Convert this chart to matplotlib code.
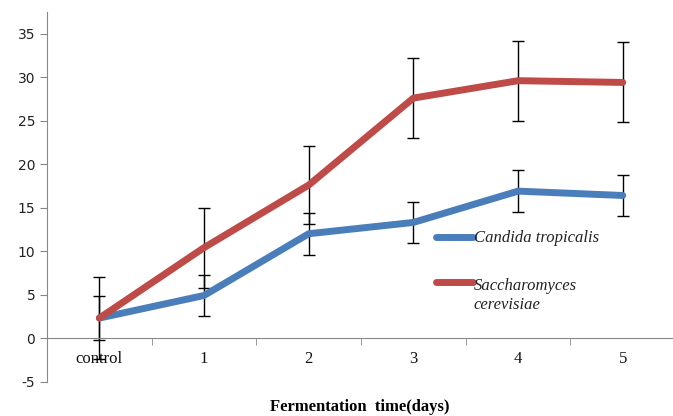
import matplotlib
matplotlib.use("Agg")
import matplotlib.pyplot as plt
import numpy as np

categories = ["control", "1", "2", "3", "4", "5"]
candida = [2.3, 4.9, 12.0, 13.3, 16.9, 16.4]
candida_err = [2.5, 2.4, 2.4, 2.4, 2.4, 2.4]
sacch = [2.3, 10.4, 17.6, 27.6, 29.6, 29.4]
sacch_err = [4.7, 4.6, 4.5, 4.6, 4.6, 4.6]
yticks = [-5, 0, 5, 10, 15, 20, 25, 30, 35]

blue = "#4A7EBB"
red = "#BE4B48"

fig = plt.figure(figsize=(6.73, 4.16), dpi=100)
ax = fig.add_axes([47/673, 34/416, 626/673, 370/416])
x = np.arange(len(categories))

ax.spines["top"].set_visible(False)
ax.spines["right"].set_visible(False)
ax.spines["left"].set_color("#888888")
ax.spines["bottom"].set_color("#888888")
ax.spines["bottom"].set_position(("data", 0))

ax.errorbar(x, candida, yerr=candida_err, fmt="none", ecolor="black",
            elinewidth=1.0, capsize=4.5, capthick=1.0, zorder=2)
ax.errorbar(x, sacch, yerr=sacch_err, fmt="none", ecolor="black",
            elinewidth=1.0, capsize=4.5, capthick=1.0, zorder=2)
ax.plot(x, candida, color=blue, lw=5, solid_capstyle="round",
        solid_joinstyle="round", label="Candida tropicalis", zorder=3)
ax.plot(x, sacch, color=red, lw=5, solid_capstyle="round",
        solid_joinstyle="round", label="Saccharomyces\ncerevisiae", zorder=3)

ax.set_xlim(-0.5, 5.48)
ax.set_ylim(-5.05, 37.5)
ax.set_yticks(yticks)
ax.set_yticklabels([str(v) for v in yticks])
ax.set_xticks(x)
ax.set_xticklabels(categories)
ax.set_xticks(np.arange(-0.5, 5.5, 1.0), minor=True)
ax.tick_params(axis="x", which="major", length=0, pad=9, labelsize=12,
               labelcolor="#111111", labelfontfamily="Liberation Serif")
ax.tick_params(axis="x", which="minor", length=5, color="#888888", direction="out")
ax.tick_params(axis="y", length=5, color="#888888", direction="out", labelsize=10,
               labelcolor="#222222", labelfontfamily="DejaVu Sans")

leg = ax.legend(loc="upper left", bbox_to_anchor=(0.598, 0.45), frameon=False,
                prop={"family": "Liberation Serif", "style": "italic", "size": 12},
                handlelength=2.2, handletextpad=0.05, labelspacing=1.9)
for t in leg.get_texts():
    t.set_color("#222222")
# align the second handle with the first text line
h = leg.legend_handles[1]
h.set_ydata(np.asarray(h.get_ydata()) + 9.4)

fig.text(360/673, 1 - 407/416, "Fermentation  time(days)", ha="center", va="center",
         fontsize=12, fontweight="bold", family="Liberation Serif")

fig.savefig("out.png", dpi=100)
